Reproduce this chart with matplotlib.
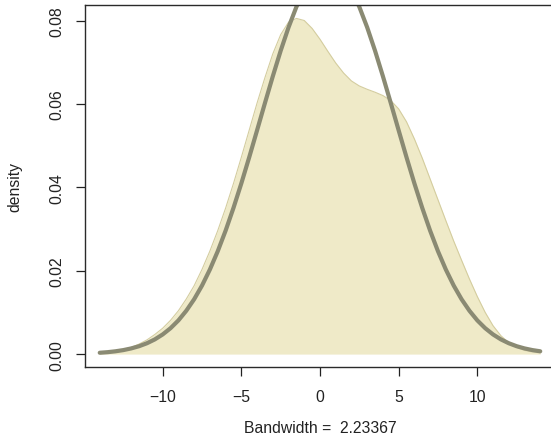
import numpy as np
import matplotlib
matplotlib.use("Agg")
import matplotlib.pyplot as plt

plt.rcParams["font.family"] = ["Liberation Sans", "DejaVu Sans"]

# grid of x positions the curves were read at (step 0.5)
x_grid = np.arange(-14, 14.01, 0.5)

# kernel density estimate (filled area)
kde_vals = [
    0.0002, 0.0004, 0.0007, 0.0011, 0.0016, 0.0024, 0.0034, 0.0047,
    0.0062, 0.0081, 0.0104, 0.0132, 0.0164, 0.0203, 0.0247, 0.0296,
    0.0350, 0.0409, 0.0472, 0.0537, 0.0602, 0.0663, 0.0720, 0.0766,
    0.0796, 0.0805, 0.0800, 0.0781, 0.0755, 0.0726, 0.0698, 0.0674,
    0.0655, 0.0643, 0.0635, 0.0628, 0.0620, 0.0608, 0.0588, 0.0557,
    0.0516, 0.0470, 0.0420, 0.0370, 0.0320, 0.0271, 0.0225, 0.0180,
    0.0138, 0.0100, 0.0068, 0.0044, 0.0027, 0.0016, 0.0009, 0.0005,
    0.0003,
]

# thick grey reference curve
ref_vals = [
    0.00032, 0.00046, 0.00067, 0.00096, 0.00136, 0.00189, 0.00260, 0.00352,
    0.00471, 0.00621, 0.00808, 0.01039, 0.01315, 0.01643, 0.02027, 0.02466,
    0.02960, 0.03505, 0.04094, 0.04719, 0.05366, 0.06020, 0.06662, 0.07274,
    0.07835, 0.08327, 0.08731, 0.09030, 0.09216, 0.09278, 0.09216, 0.09030,
    0.08731, 0.08327, 0.07835, 0.07274, 0.06662, 0.06020, 0.05366, 0.04719,
    0.04094, 0.03505, 0.02960, 0.02466, 0.02027, 0.01643, 0.01315, 0.01039,
    0.00808, 0.00621, 0.00471, 0.00352, 0.00260, 0.00189, 0.00136, 0.00096,
    0.00067,
]

x_ticks = [-10, -5, 0, 5, 10]
y_ticks = [0.00, 0.02, 0.04, 0.06, 0.08]
bandwidth_label = "Bandwidth =  2.23367"

fig = plt.figure(figsize=(5.51, 4.39), dpi=100)
ax = fig.add_axes([0.1539, 0.1617, 0.8537, 0.8235])

ax.fill_between(x_grid, kde_vals, 0, color="#efeac8", linewidth=0)
ax.plot(x_grid, kde_vals, color="#d4cd9f", lw=0.8)
ax.plot(x_grid, ref_vals, color="#8a8a73", lw=3.0, solid_capstyle="round")

ax.set_xlim(-14.95, 14.95)
ax.set_ylim(-0.0031, 0.0836)
ax.set_xticks(x_ticks)
ax.set_yticks(y_ticks)
ax.set_yticklabels([f"{v:.2f}" for v in y_ticks], rotation=90, va="center")

for side in ["left", "top", "bottom"]:
    ax.spines[side].set_color("#2a2a2a")
    ax.spines[side].set_linewidth(1.0)
ax.spines["right"].set_visible(False)

ax.tick_params(axis="both", direction="out", length=6.5, width=0.9,
               colors="#222222", labelsize=11.3, labelcolor="#222222")
ax.tick_params(axis="x", pad=9)
ax.tick_params(axis="y", pad=8)

ax.set_xlabel(bandwidth_label, fontsize=11.3, labelpad=12, color="#222222")
ax.set_ylabel("density", fontsize=11.3, labelpad=20, color="#222222")

fig.savefig("out.png", dpi=100)
